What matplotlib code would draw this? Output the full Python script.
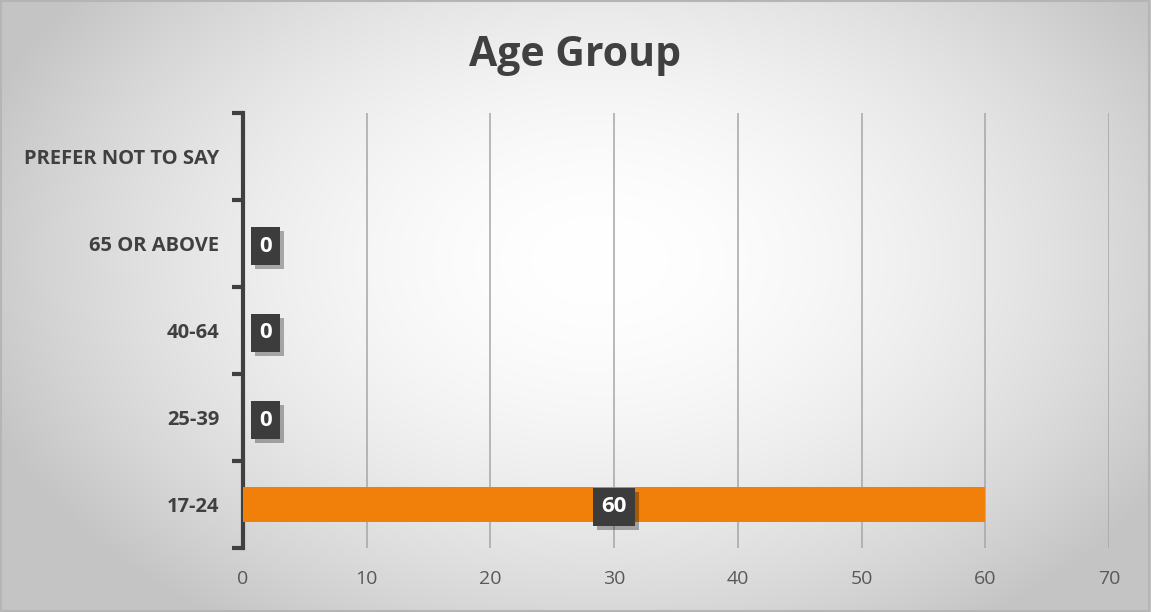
import numpy as np
import matplotlib
matplotlib.use("Agg")
import matplotlib.pyplot as plt
import matplotlib.patheffects as pe

categories = ["17-24", "25-39", "40-64", "65 OR ABOVE", "PREFER NOT TO SAY"]
values = [60, 0, 0, 0, np.nan]
xticks = [0, 10, 20, 30, 40, 50, 60, 70]
title = "Age Group"

plt.rcParams['font.family'] = ['Open Sans', 'DejaVu Sans']

W, H = 1151, 612
fig = plt.figure(figsize=(W / 100, H / 100), dpi=100)

# radial gradient background
bg = fig.add_axes([0, 0, 1, 1], zorder=0)
yy, xx = np.mgrid[0:H, 0:W]
cx, cy = 600, 260
r = np.sqrt(((xx - cx) / 640.0) ** 2 + ((yy - cy) / 430.0) ** 2)
g = 1.0 - 0.22 * np.clip(r, 0, 1.3) ** 1.8
g = np.clip(g, 0.77, 1.0)
bg.imshow(np.dstack([g, g, g]), extent=[0, W, H, 0], aspect='auto')
bg.set_xlim(0, W); bg.set_ylim(H, 0)
bg.axis('off')
# border
bg.plot([0.5, W - 1.5, W - 1.5, 0.5, 0.5], [0.5, 0.5, H - 1.5, H - 1.5, 0.5],
        color='#b5b5b5', lw=1.5)

ax = fig.add_axes([243 / W, 1 - 548 / H, (1109 - 243) / W, (548 - 113) / H], zorder=1)
ax.patch.set_alpha(0)

y = np.arange(len(categories))
ax.barh(y, values, height=0.4, color='#f0800a', zorder=3)

ax.set_xlim(0, 70)
ax.set_ylim(-0.5, len(categories) - 0.5)
ax.set_xticks(xticks)
ax.set_xticklabels([str(t) for t in xticks], fontsize=14, color='#595959')
ax.tick_params(axis='x', length=0, pad=16)
ax.grid(axis='x', color='#a6a6a6', lw=1.1, zorder=0)
ax.set_axisbelow(True)

for s in ['top', 'right', 'bottom']:
    ax.spines[s].set_visible(False)
ax.spines['left'].set_color('#404040')
ax.spines['left'].set_linewidth(3)

ax.set_yticks(y)
ax.set_yticklabels(categories, fontsize=14.5, fontweight='bold', color='#404040')
ax.tick_params(axis='y', which='major', length=0, pad=17)
ax.set_yticks(np.arange(-0.5, len(categories), 1), minor=True)
ax.tick_params(axis='y', which='minor', length=8, width=3, color='#404040')

for yi, v in zip(y, values):
    if np.isnan(v):
        continue
    if v == 0:
        xpos, ha = 1.3, 'left'
    else:
        xpos, ha = v / 2, 'center'
    t = ax.text(xpos, yi, f"{v:g}", ha=ha, va='center_baseline', fontsize=16, fontweight='bold',
                color='white', zorder=5,
                bbox=dict(boxstyle='square,pad=0.38', facecolor='#3c3c3c', edgecolor='none'))
    t.get_bbox_patch().set_path_effects([
        pe.SimplePatchShadow(offset=(3, -3), shadow_rgbFace='black', alpha=0.3),
        pe.Normal()])

fig.text(0.5, 1 - 55 / H, title, ha='center', va='center', fontsize=29.5,
         fontweight='bold', color='#404040')

fig.savefig("out.png", dpi=100)
